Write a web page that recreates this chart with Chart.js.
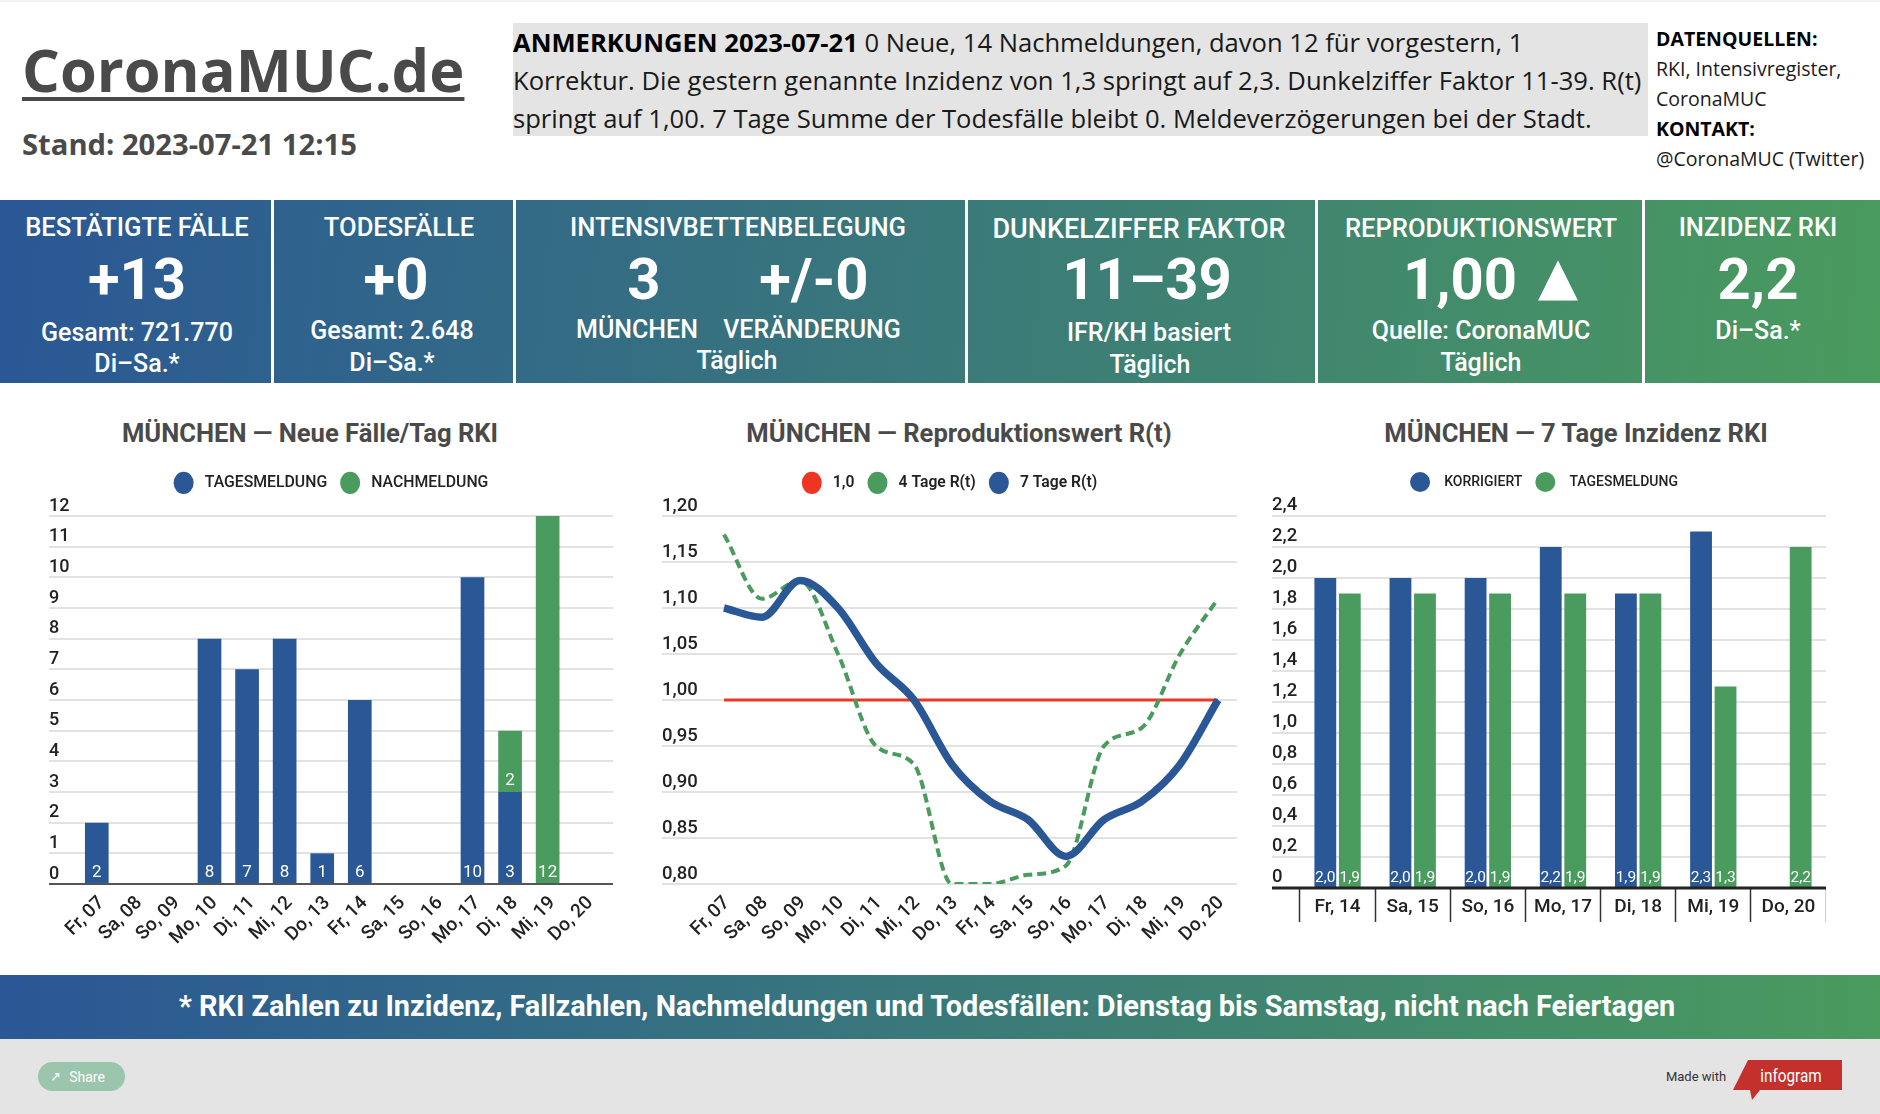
<!DOCTYPE html>
<html lang="de">
<head>
<meta charset="utf-8">
<title>CoronaMUC.de</title>
<script src="https://cdn.jsdelivr.net/npm/chart.js@4/dist/chart.umd.min.js"></script>
<style>
    html, body { margin: 0; padding: 0; background: #fff; }
    #page { position: relative; width: 1880px; height: 1114px; overflow: hidden; font-family: Roboto, sans-serif; }
    #page > * { position: absolute; }
    .strip { left: 0; top: 0; width: 1880px; height: 2px; background: #f1f1f1; }
    .logo { left: 22px; top: 28px; font: 700 59.5px "Open Sans", sans-serif; color: #4a4a4a; text-decoration: underline; text-decoration-thickness: 4px; text-underline-offset: 5px; white-space: nowrap; }
    .stand { left: 22px; top: 124px; font: 700 29.2px "Open Sans", sans-serif; color: #4a4a4a; white-space: nowrap; }
    .notes { left: 513px; top: 23px; width: 1135px; height: 113px; background: #e4e4e4; font: 400 25.6px/37.8px "Open Sans", sans-serif; color: #1a1a1a; white-space: nowrap; }
    .notes span { position: relative; top: 1px; }
    .notes b { font-weight: 700; color: #000; }
    .source { left: 1656px; top: 24px; font: 400 19.5px/30px "Open Sans", sans-serif; color: #1a1a1a; white-space: nowrap; }
    .source b { font-weight: 700; color: #000; }
    .band { left: 0; top: 200px; width: 1880px; height: 183px; background: linear-gradient(95deg, #2a5796, #4a9b5e); }
    .sep { top: 200px; width: 3px; height: 183px; background: #fff; }
    .t { transform: translate(-50%, -50%); color: #fff; white-space: nowrap; }
    .h { font-size: 25.6px; font-weight: 500; }
    .big { font-size: 58px; font-weight: 700; }
    .sub { font-size: 25px; font-weight: 500; }
    .title { transform: translate(-50%, -50%); top: 433px; font-size: 25.6px; font-weight: 700; color: #4a4a4a; white-space: nowrap; }
    canvas { top: 462px; height: 502px; }
    .foot { left: 0; top: 975px; width: 1880px; height: 64px; background: linear-gradient(92deg, #2a5796, #4a9b5e); }
    .footer-text { left: 927px; top: 1006px; font-size: 28.9px; font-weight: 700; }
    .grey { left: 0; top: 1039px; width: 1880px; height: 75px; background: #e4e4e4; }
    .share { left: 38px; top: 1062px; width: 87px; height: 29px; border-radius: 15px; background: #9cc5ad; }
    .share-icon { left: 55px; top: 1076px; font-size: 13px; }
    .share-text { left: 87px; top: 1077px; font-size: 14px; }
    .made { left: 1696px; top: 1076px; font-size: 13px; color: #333; }
    .logo-box { left: 1733px; top: 1060px; }
    .logo-text { left: 1791px; top: 1075px; font-size: 18px; font-weight: 400; transform: translate(-50%, -50%) scaleX(0.85); }
</style>
</head>
<body>
<div id="page">
    <div class="strip"></div>
    <div class="logo">CoronaMUC.de</div>
    <div class="stand">Stand: 2023-07-21 12:15</div>
    <div class="notes"><span><b>ANMERKUNGEN 2023-07-21</b> 0 Neue, 14 Nachmeldungen, davon 12 für vorgestern, 1<br>Korrektur. Die gestern genannte Inzidenz von 1,3 springt auf 2,3. Dunkelziffer Faktor 11-39. R(t)<br>springt auf 1,00. 7 Tage Summe der Todesfälle bleibt 0. Meldeverzögerungen bei der Stadt.</span></div>
    <div class="source"><b>DATENQUELLEN:</b><br>RKI, Intensivregister,<br>CoronaMUC<br><b>KONTAKT:</b><br>@CoronaMUC (Twitter)</div>

    <div class="band"></div>
    <div class="sep" style="left:271px"></div>
    <div class="sep" style="left:513px"></div>
    <div class="sep" style="left:965px"></div>
    <div class="sep" style="left:1315px"></div>
    <div class="sep" style="left:1642px"></div>

    <div class="t h" style="left:137px;top:227px">BESTÄTIGTE FÄLLE</div>
    <div class="t big" style="left:137px;top:279px">+13</div>
    <div class="t sub" style="left:137px;top:332px">Gesamt: 721.770</div>
    <div class="t sub" style="left:137px;top:363px">Di–Sa.*</div>

    <div class="t h" style="left:399px;top:227px">TODESFÄLLE</div>
    <div class="t big" style="left:396px;top:279px">+0</div>
    <div class="t sub" style="left:392px;top:330px">Gesamt: 2.648</div>
    <div class="t sub" style="left:392px;top:362px">Di–Sa.*</div>

    <div class="t h" style="left:738px;top:227px">INTENSIVBETTENBELEGUNG</div>
    <div class="t big" style="left:644px;top:279px">3</div>
    <div class="t big" style="left:814px;top:279px">+/-0</div>
    <div class="t sub" style="left:637px;top:329px">MÜNCHEN</div>
    <div class="t sub" style="left:812px;top:329px">VERÄNDERUNG</div>
    <div class="t sub" style="left:737px;top:360px">Täglich</div>

    <div class="t h" style="left:1139px;top:229px;font-size:27px">DUNKELZIFFER FAKTOR</div>
    <div class="t big" style="left:1147px;top:279px">11–39</div>
    <div class="t sub" style="left:1149px;top:332px">IFR/KH basiert</div>
    <div class="t sub" style="left:1150px;top:364px">Täglich</div>

    <div class="t h" style="left:1481px;top:228px">REPRODUKTIONSWERT</div>
    <div class="t big" style="left:1460px;top:279px">1,00</div>
    <div class="t" style="left:1558px;top:276px;font:400 52px 'DejaVu Sans'">▲</div>
    <div class="t sub" style="left:1481px;top:330px">Quelle: CoronaMUC</div>
    <div class="t sub" style="left:1481px;top:362px">Täglich</div>

    <div class="t h" style="left:1758px;top:227px">INZIDENZ RKI</div>
    <div class="t big" style="left:1758px;top:279px">2,2</div>
    <div class="t sub" style="left:1758px;top:330px">Di–Sa.*</div>

    <div class="title" style="left:310px">MÜNCHEN — Neue Fälle/Tag RKI</div>
    <div class="title" style="left:959px">MÜNCHEN — Reproduktionswert R(t)</div>
    <div class="title" style="left:1576px">MÜNCHEN — 7 Tage Inzidenz RKI</div>

    <canvas id="casesChart" width="564" height="502" style="left:49px"></canvas>
    <canvas id="rChart" width="575" height="502" style="left:662px"></canvas>
    <canvas id="incidenceChart" width="554" height="502" style="left:1272px"></canvas>

    <div class="foot"></div>
    <div class="t footer-text">* RKI Zahlen zu Inzidenz, Fallzahlen, Nachmeldungen und Todesfällen: Dienstag bis Samstag, nicht nach Feiertagen</div>
    <div class="grey"></div>
    <div class="share"></div>
    <div class="t share-icon">↗</div>
    <div class="t share-text">Share</div>
    <div class="t made">Made with</div>
    <svg class="logo-box" width="109" height="40"><polygon points="15,0 109,0 109,30 27,30 19,40 17,30 0,30" fill="#c4302b"/></svg>
    <div class="t logo-text">infogram</div>
</div>

<script>
    const BLUE = '#2a5796', GREEN = '#4a9b5e', RED = '#ee3524';

    const days = ['Fr, 07', 'Sa, 08', 'So, 09', 'Mo, 10', 'Di, 11', 'Mi, 12', 'Do, 13', 'Fr, 14', 'Sa, 15', 'So, 16', 'Mo, 17', 'Di, 18', 'Mi, 19', 'Do, 20'];
    const tagesmeldung = [2, 0, 0, 8, 7, 8, 1, 6, 0, 0, 10, 3, 0, 0];
    const nachmeldung = [0, 0, 0, 0, 0, 0, 0, 0, 0, 0, 0, 2, 12, 0];

    const rOne = [1, 1, 1, 1, 1, 1, 1, 1, 1, 1, 1, 1, 1, 1];
    const rFour = [1.18, 1.11, 1.13, 1.05, 0.95, 0.93, 0.80, 0.80, 0.81, 0.82, 0.95, 0.97, 1.05, 1.11];
    const rSeven = [1.10, 1.09, 1.13, 1.10, 1.04, 1.00, 0.93, 0.89, 0.87, 0.83, 0.87, 0.89, 0.93, 1.00];

    const incidenceDays = ['Fr, 14', 'Sa, 15', 'So, 16', 'Mo, 17', 'Di, 18', 'Mi, 19', 'Do, 20'];
    const korrigiert = [2.0, 2.0, 2.0, 2.2, 1.9, 2.3, null];
    const incidenceTages = [1.9, 1.9, 1.9, 1.9, 1.9, 1.3, 2.2];

    const comma = (value, digits) => value.toFixed(digits).replace('.', ',');

    // infogram runs the grid under the tick labels, so it goes across the whole canvas
    const fullGrid = {
        id: 'fullGrid',
        beforeDatasetsDraw(chart) {
            const { ctx, scales: { y } } = chart;
            ctx.save();
            ctx.strokeStyle = '#e2e2e2';
            ctx.lineWidth = 2;
            y.ticks.forEach((_, i) => {
                const py = Math.round(y.getPixelForTick(i));
                ctx.beginPath();
                ctx.moveTo(0, py);
                ctx.lineTo(chart.width, py);
                ctx.stroke();
            });
            ctx.restore();
        },
        afterDatasetsDraw(chart, args, opts) {
            if (!opts.baseColor) return;
            const { ctx, scales: { y } } = chart;
            const py = Math.round(y.getPixelForValue(0));
            ctx.save();
            ctx.strokeStyle = opts.baseColor;
            ctx.lineWidth = opts.baseWidth;
            ctx.beginPath();
            ctx.moveTo(0, py);
            ctx.lineTo(chart.width, py);
            ctx.stroke();
            ctx.restore();
        }
    };

    // value written just above the foot of each bar segment
    const barLabels = {
        id: 'barLabels',
        afterDatasetsDraw(chart, args, opts) {
            const { ctx } = chart;
            ctx.save();
            ctx.fillStyle = '#fff';
            ctx.font = `400 ${opts.size}px Roboto`;
            ctx.textAlign = 'center';
            ctx.textBaseline = 'middle';
            chart.data.datasets.forEach((ds, d) => {
                chart.getDatasetMeta(d).data.forEach((bar, i) => {
                    if (!ds.data[i]) return;
                    ctx.fillText(opts.format(ds.data[i]), bar.x, bar.base - opts.lift);
                });
            });
            ctx.restore();
        }
    };

    // legend strip has a fixed height so the plot tops line up
    const legendBox = {
        id: 'legendBox',
        beforeInit(chart) {
            const fit = chart.legend.fit;
            chart.legend.fit = function () {
                fit.call(this);
                this.height = 54;
            };
        },
        afterLayout(chart, args, opts) {
            chart.legend.left += opts.shift || 0;
            chart.legend.right += opts.shift || 0;
        }
    };

    function legendOptions(size, weight, space) {
        return {
            position: 'top',
            labels: {
                usePointStyle: true,
                pointStyle: 'circle',
                pointStyleWidth: 20,
                boxHeight: size,
                padding: 13,
                color: '#222',
                font: { family: 'Roboto', size: size, weight: weight },
                sort: (a, b) => a.datasetIndex - b.datasetIndex,
                generateLabels(chart) {
                    return Chart.defaults.plugins.legend.labels.generateLabels(chart).map(item => {
                        item.text = space + item.text;
                        item.lineWidth = 0;
                        return item;
                    });
                }
            }
        };
    }

    function yAxis(width, size, lift, min, max, step, format) {
        return {
            min, max,
            position: 'left',
            grid: { display: false },
            border: { display: false },
            afterFit(axis) { axis.width = width; },
            ticks: {
                stepSize: step,
                autoSkip: false,
                crossAlign: 'far',
                labelOffset: lift,
                color: '#222',
                font: { family: 'Roboto', size: size, weight: 500 },
                callback: format
            }
        };
    }

    function rotatedDays(shift) {
        return {
            offset: true,
            grid: { display: false },
            border: { display: false },
            afterFit(axis) { axis.height = 80; },
            ticks: {
                autoSkip: false,
                minRotation: 45,
                maxRotation: 45,
                padding: 0,
                labelOffset: shift,
                color: '#222',
                font: { family: 'Roboto', size: 19, weight: 500 }
            }
        };
    }

    new Chart(document.getElementById('casesChart'), {
        type: 'bar',
        data: {
            labels: days,
            datasets: [
                { label: 'TAGESMELDUNG', data: tagesmeldung, backgroundColor: BLUE },
                { label: 'NACHMELDUNG', data: nachmeldung, backgroundColor: GREEN }
            ]
        },
        options: {
            responsive: false,
            animation: false,
            barPercentage: 0.63,
            categoryPercentage: 1,
            scales: {
                x: Object.assign(rotatedDays(5), { stacked: true }),
                y: Object.assign(yAxis(29, 18, -10, 0, 12, 1, v => v), { stacked: true }),
                gap: {
                    position: 'right',
                    ticks: { display: false },
                    grid: { display: false },
                    border: { display: false },
                    afterFit(axis) { axis.width = 9; }
                }
            },
            plugins: {
                legend: legendOptions(15.8, 500, '\u2009'),
                fullGrid: { baseColor: '#555', baseWidth: 2 },
                barLabels: { size: 17, lift: 11.5, format: v => v }
            }
        },
        plugins: [legendBox, fullGrid, barLabels]
    });

    new Chart(document.getElementById('rChart'), {
        type: 'line',
        data: {
            labels: days,
            datasets: [
                { label: '1,0', data: rOne, borderColor: RED, backgroundColor: RED, borderWidth: 3, pointRadius: 0, order: 3 },
                { label: '4 Tage R(t)', data: rFour, borderColor: GREEN, backgroundColor: GREEN, borderWidth: 4, borderDash: [9, 5], pointRadius: 0, cubicInterpolationMode: 'monotone', order: 2 },
                { label: '7 Tage R(t)', data: rSeven, borderColor: BLUE, backgroundColor: BLUE, borderWidth: 7.5, pointRadius: 0, cubicInterpolationMode: 'monotone', order: 1 }
            ]
        },
        options: {
            responsive: false,
            animation: false,
            scales: {
                x: rotatedDays(3),
                y: yAxis(43, 18.5, -10, 0.8, 1.2, 0.05, v => comma(v, 2))
            },
            plugins: {
                legend: legendOptions(15.7, 600, '\u2009')
            }
        },
        plugins: [legendBox, fullGrid]
    });

    new Chart(document.getElementById('incidenceChart'), {
        type: 'bar',
        data: {
            labels: incidenceDays,
            datasets: [
                { label: 'KORRIGIERT', data: korrigiert, backgroundColor: BLUE },
                { label: 'TAGESMELDUNG', data: incidenceTages, backgroundColor: GREEN }
            ]
        },
        options: {
            responsive: false,
            animation: false,
            barPercentage: 0.89,
            categoryPercentage: 0.652,
            scales: {
                x: {
                    offset: true,
                    grid: { drawOnChartArea: false, tickLength: 34, tickColor: '#333', tickWidth: 1.5 },
                    border: { display: false },
                    afterFit(axis) { axis.height = 76; },
                    ticks: {
                        maxRotation: 0,
                        padding: -26.5,
                        color: '#222',
                        font: { family: 'Roboto', size: 19, weight: 500 }
                    }
                },
                y: yAxis(28, 18.5, -10.8, 0, 2.4, 0.2, v => (v === 0 ? '0' : comma(v, 1)))
            },
            plugins: {
                legend: legendOptions(14, 500, '\u2002'),
                legendBox: { shift: -5 },
                fullGrid: { baseColor: '#222', baseWidth: 3 },
                barLabels: { size: 15.5, lift: 9.5, format: v => comma(v, 1) }
            }
        },
        plugins: [legendBox, fullGrid, barLabels]
    });
</script>
</body>
</html>
